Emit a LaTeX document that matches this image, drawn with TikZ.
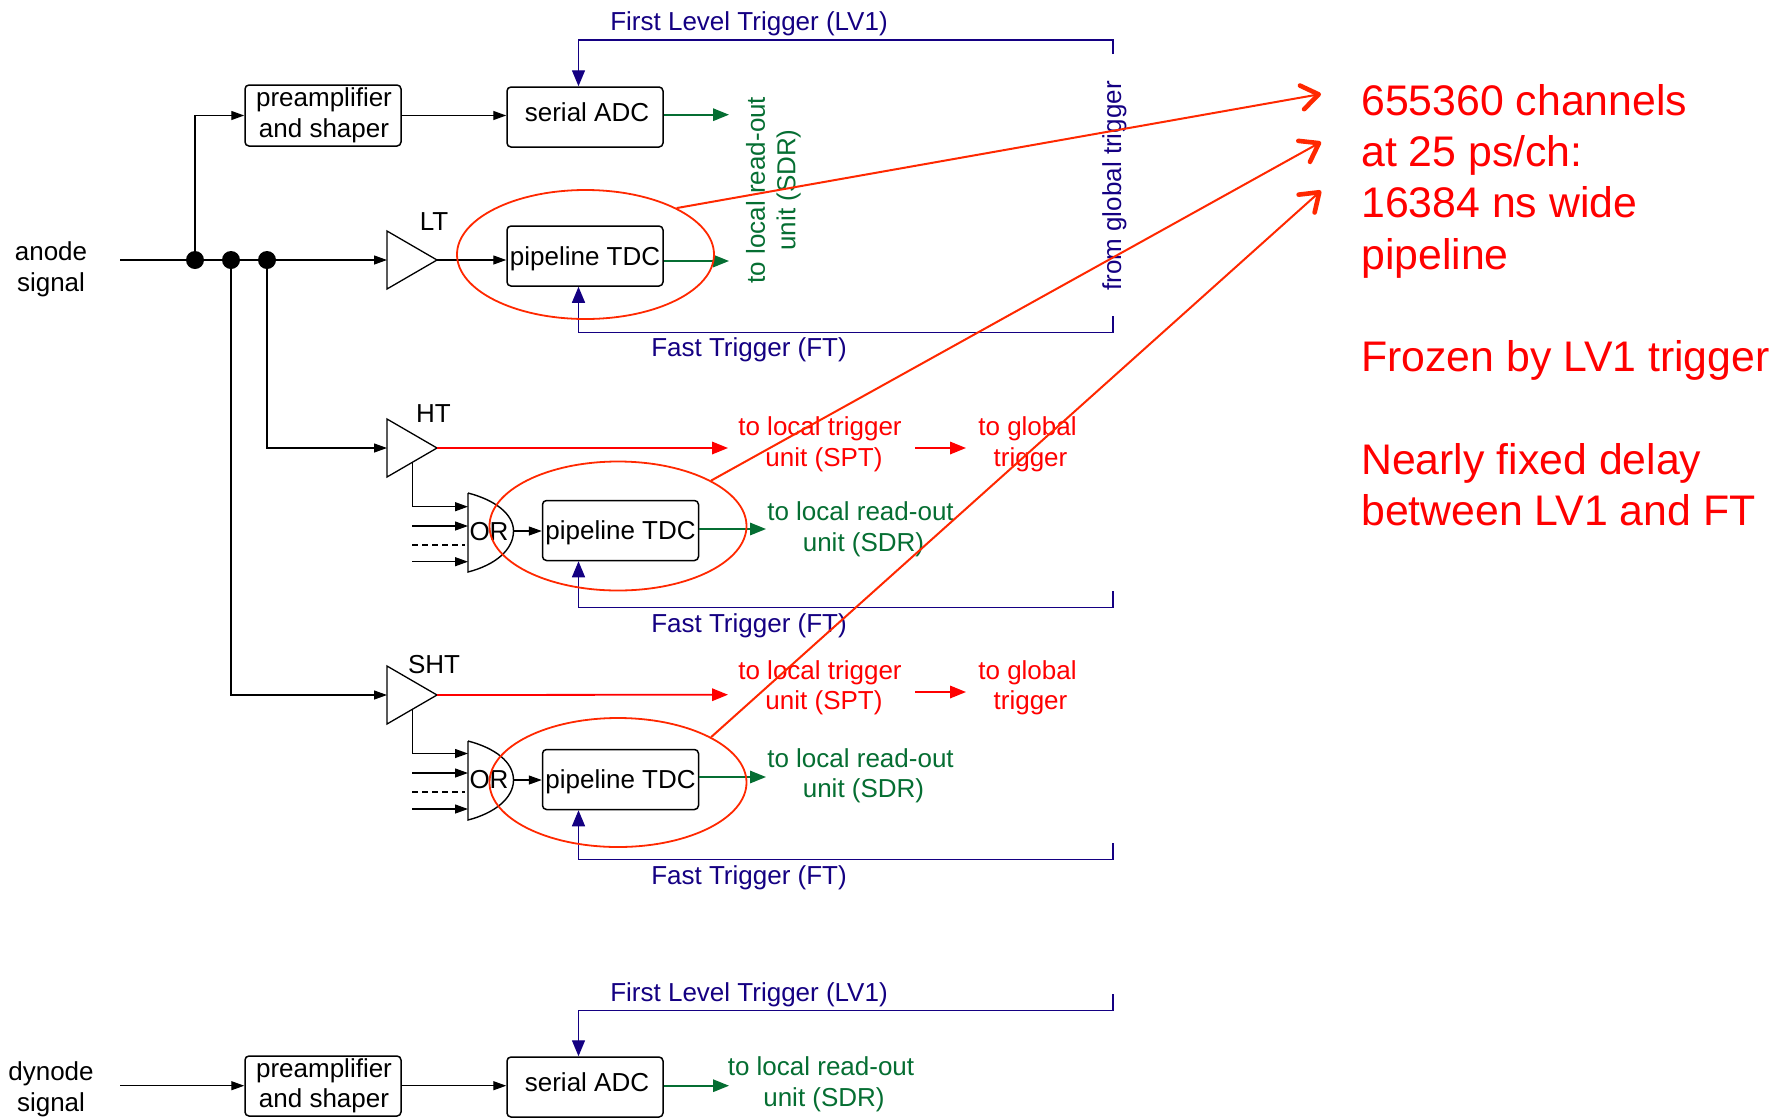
\documentclass[tikz,border=0pt]{standalone}
\usepackage{fontspec}
\setmainfont{Liberation Sans}
\usetikzlibrary{arrows.meta,shapes.geometric}
\definecolor{navyc}{RGB}{20,0,130}
\definecolor{greenc}{RGB}{5,110,50}
\definecolor{redt}{RGB}{255,0,0}
\definecolor{redl}{RGB}{255,40,0}
\tikzset{
  lab/.style={font=\fontsize{26}{30.5}\selectfont,align=center,inner sep=0pt},
  blab/.style={lab,text=navyc},
  glab/.style={lab,text=greenc},
  rlab/.style={lab,text=redt},
  bigt/.style={font=\fontsize{42.8}{51.3}\selectfont,align=left,inner sep=0pt,text=redt,anchor=north west},
  blockbox/.style={draw,line width=1.5pt,rounded corners=4pt,inner sep=0pt,font=\fontsize{26}{30.5}\selectfont,align=center},
  tdcbox/.style={blockbox,minimum width=156pt,minimum height=60pt,text height=23.6pt,text depth=5.4pt},
  adcbox/.style={blockbox,minimum width=156pt,minimum height=60pt,text height=19pt,text depth=9.3pt},
  amp/.style={draw,line width=1.3pt,line join=miter},
  wire/.style={draw,line width=1.3pt,-{Triangle[length=13pt,width=9pt]}},
  gwire/.style={draw=greenc,line width=1.6pt,-{Triangle[length=16pt,width=12.5pt]}},
  rwire/.style={draw=redt,line width=1.8pt,-{Triangle[length=16pt,width=12.5pt]}},
  bwire/.style={draw=navyc,line width=1.4pt,-{Triangle[length=16pt,width=13pt]}},
  pointer/.style={draw=redl,line width=2pt,-{Straight Barb[length=17pt,width=24pt,line width=4.6pt,round]}},
  ring/.style={draw=redl,line width=1.8pt,ellipse,inner sep=0pt,minimum width=257pt,minimum height=129pt},
  jdot/.style={circle,fill=black,inner sep=0pt,minimum size=18pt}
}
\begin{document}
\begin{tikzpicture}[x=1pt,y=-1pt]
\useasboundingbox (0,0) rectangle (1782,1117);
% ---------- labels on the left
\node[lab] (anode) at (51,269.5) {anode\\signal};
\node[lab] (dynode) at (51,1089.5) {dynode\\signal};
% ---------- free ends
\coordinate (ain) at (120,260);
\coordinate (din) at (120,1085.7);
% ---------- blocks
\node[blockbox,minimum width=156pt,minimum height=61pt] (pre1) at (323,115.5) {\kern2pt preamplifier\\\kern2pt and shaper};
\node[adcbox] (adc1) at (585,117) {\kern4pt serial ADC};
\node[tdcbox] (tdcL) at (585,256) {pipeline TDC};
\node[tdcbox] (tdcH) at (620.5,530.5) {pipeline TDC};
\node[tdcbox] (tdcS) at (620.5,779.5) {pipeline TDC};
\node[blockbox,minimum width=156pt,minimum height=60pt] (pre2) at (323,1086) {\kern2pt preamplifier\\\kern2pt and shaper};
\node[adcbox] (adc2) at (585,1087) {\kern4pt serial ADC};
% ---------- amplifiers
\coordinate (ltI) at (387,260); \coordinate (ltO) at (437,260);
\coordinate (htI) at (387,448); \coordinate (htO) at (437,448);
\coordinate (shI) at (387,695); \coordinate (shO) at (437,695);
\draw[amp] (387,231) -- (ltO) -- (387,289) -- cycle;
\draw[amp] (387,419) -- (htO) -- (387,477) -- cycle;
\draw[amp] (387,666) -- (shO) -- (387,724) -- cycle;
\node[lab] (ltl) at (434,222) {LT};
\node[lab] (htl) at (433.5,414) {HT};
\node[lab] (shl) at (434,665) {SHT};
% ---------- OR gates
\coordinate (orHt) at (468,493); \coordinate (orHb) at (468,572); \coordinate (orHo) at (513.5,531);
\coordinate (orSt) at (468,741); \coordinate (orSb) at (468,820); \coordinate (orSo) at (513.5,780);
\draw[amp,line width=1.4pt] (orHt) -- (orHb) .. controls (495,565) and (513.5,550) .. (orHo) .. controls (513.5,514) and (495,500) .. (orHt);
\draw[amp,line width=1.4pt] (orSt) -- (orSb) .. controls (495,813) and (513.5,798) .. (orSo) .. controls (513.5,762) and (495,748) .. (orSt);
\node[lab] (orH) at (489,532) {OR};
\node[lab] (orS) at (489,780) {OR};
% ---------- black wiring
\node[jdot] (j1) at (195,260) {};
\node[jdot] (j2) at (231,260) {};
\node[jdot] (j3) at (267,260) {};
\path[wire] (ain) -- (ltI);
\path[wire] (j1.center) |- (pre1.west);
\path[wire] (j3.center) |- (htI);
\path[wire] (j2.center) |- (shI);
\path[wire] (pre1.east) -- (pre1.east -| adc1.west);
\path[wire] (ltO) -- (tdcL.west |- ltO);
\path[wire] (orHo) -- (tdcH.west |- orHo);
\path[wire] (orSo) -- (tdcS.west |- orSo);
\path[wire] (din) -- (din -| pre2.west);
\path[wire] (pre2.east |- din) -- (din -| adc2.west);
% OR inputs, HT
\coordinate (hA) at (412.4,463); \coordinate (hB) at (468,506.7);
\path[wire] (hA) |- (hB);
\coordinate (hC) at (412.4,526); \coordinate (hD) at (468,526);
\path[wire] (hC) -- (hD);
\coordinate (hE) at (412.4,545); \coordinate (hF) at (465,545);
\draw[line width=1.3pt,dash pattern=on 6pt off 4pt] (hE) -- (hF);
\coordinate (hG) at (412.4,561.7); \coordinate (hH) at (468,561.7);
\path[wire] (hG) -- (hH);
% OR inputs, SHT
\coordinate (sA) at (412.4,710); \coordinate (sB) at (468,753.5);
\path[wire] (sA) |- (sB);
\coordinate (sC) at (412.4,773); \coordinate (sD) at (468,773);
\path[wire] (sC) -- (sD);
\coordinate (sE) at (412.4,792); \coordinate (sF) at (465,792);
\draw[line width=1.3pt,dash pattern=on 6pt off 4pt] (sE) -- (sF);
\coordinate (sG) at (412.4,809); \coordinate (sH) at (468,809);
\path[wire] (sG) -- (sH);
% ---------- green outputs
\coordinate (g1) at (729,114.7); \coordinate (g2) at (729,261);
\coordinate (g3) at (766,529); \coordinate (g4) at (766,777); \coordinate (g5) at (729,1085.7);
\path[gwire] (adc1.east |- g1) -- (g1);
\path[gwire] (tdcL.east |- g2) -- (g2);
\path[gwire] (tdcH.east |- g3) -- (g3);
\path[gwire] (tdcS.east |- g4) -- (g4);
\path[gwire] (adc2.east |- g5) -- (g5);
\node[glab,rotate=90] (ro1) at (773.5,190) {to local read-out\\unit (SDR)};
\node[glab] (ro2) at (860.5,529.5) {to local read-out\\\kern6pt unit (SDR)};
\node[glab] (ro3) at (860.5,776) {to local read-out\\\kern6pt unit (SDR)};
\node[glab] (ro4) at (821,1084.5) {to local read-out\\\kern6pt unit (SDR)};
% ---------- red outputs
\coordinate (r1) at (728,448); \coordinate (r2) at (728,694.7);
\path[rwire] (htO) -- (r1);
\path[rwire] (shO) -- (r2);
\node[rlab] (lt1) at (820,444.5) {to local trigger\\\kern8pt unit (SPT)};
\node[rlab] (lt2) at (820,688) {to local trigger\\\kern8pt unit (SPT)};
\node[rlab] (gt1) at (1027.5,444.5) {to global\\\kern6pt trigger};
\node[rlab] (gt2) at (1027.5,688) {to global\\\kern6pt trigger};
\coordinate (s1a) at (915,448); \coordinate (s1b) at (966,448);
\coordinate (s2a) at (915,692); \coordinate (s2b) at (966,692);
\path[rwire] (s1a) -- (s1b);
\path[rwire] (s2a) -- (s2b);
% ---------- blue trigger lines
\coordinate (lvA) at (1113,54); \coordinate (lvB) at (1113,40); \coordinate (lvC) at (578.5,40);
\path[bwire] (lvA) -- (lvB) -- (lvC) -- (lvC |- adc1.north);
\coordinate (f1A) at (1113,316); \coordinate (f1B) at (1113,332.7); \coordinate (f1C) at (578.5,332.7);
\path[bwire] (f1A) -- (f1B) -- (f1C) -- (f1C |- tdcL.south);
\coordinate (f2A) at (1113,591); \coordinate (f2B) at (1113,607.7); \coordinate (f2C) at (578.5,607.7);
\path[bwire] (f2A) -- (f2B) -- (f2C) -- (f2C |- tdcH.south);
\coordinate (f3A) at (1113,843); \coordinate (f3B) at (1113,859.5); \coordinate (f3C) at (578.5,859.5);
\path[bwire] (f3A) -- (f3B) -- (f3C) -- (f3C |- tdcS.south);
\coordinate (lwA) at (1113,994); \coordinate (lwB) at (1113,1010.7); \coordinate (lwC) at (578.5,1010.7);
\path[bwire] (lwA) -- (lwB) -- (lwC) -- (lwC |- adc2.north);
\node[blab] (lv1) at (749,23.5) {First Level Trigger (LV1)};
\node[blab] (ft1) at (749,350) {Fast Trigger (FT)};
\node[blab] (ft2) at (749,625.5) {Fast Trigger (FT)};
\node[blab] (ft3) at (749,878) {Fast Trigger (FT)};
\node[blab] (lv2) at (749,994.5) {First Level Trigger (LV1)};
\node[blab,rotate=90] (glob) at (1114.5,186) {from global trigger};
% ---------- rings and pointers
\node[ring] (eL) at (585.5,254.5) {};
\node[ring] (eH) at (618,526) {};
\node[ring] (eS) at (618,782.5) {};
\coordinate (p1) at (1321,94); \coordinate (p2) at (1321,142); \coordinate (p3) at (1321,190.7);
\path[pointer] (eL.27) -- (p1);
\path[pointer] (eH.26.6) -- (p2);
\path[pointer] (eS.26.6) -- (p3);
% ---------- big text
\node[bigt] (note) at (1361,84) {655360 channels\\at 25 ps/ch:\\16384 ns wide\\pipeline\\[51.3pt]Frozen by LV1 trigger\\[51.3pt]Nearly fixed delay\\between LV1 and FT};
\end{tikzpicture}
\end{document}
